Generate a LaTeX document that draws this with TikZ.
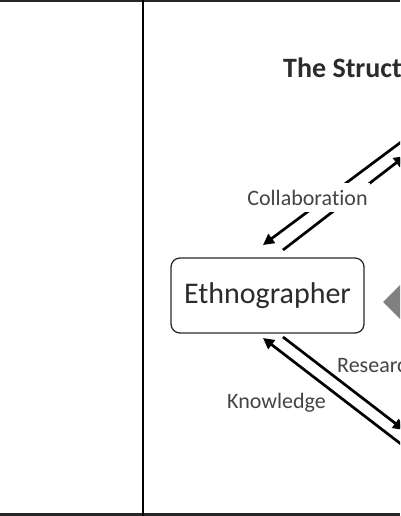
\documentclass[tikz,border=0pt]{standalone}
\usepackage{fontspec}
\setmainfont[Ligatures=NoCommon]{Carlito}
\usetikzlibrary{arrows.meta}
\definecolor{txt}{HTML}{2B2B2B}
\definecolor{lbl}{HTML}{444444}
\begin{document}
\begin{tikzpicture}[x=1pt,y=-1pt,every node/.style={inner sep=0pt},
  flow/.style={line width=2.7pt,-{Triangle[length=11pt,width=11pt]}},
  lab/.style={text=lbl,font=\fontsize{22}{24}\selectfont}]
\clip (0,0) rectangle (400,516);
\fill[white] (0,0) rectangle (400,516);
% frame
\draw[line width=2.5pt,black!85] (0,1) -- (400,1);
\draw[line width=3pt,black!85] (0,514.5) -- (400,514.5);
\draw[line width=2pt] (143,0) -- (143,516);
\node[anchor=base west,text=txt,font=\bfseries\fontsize{28}{30}\selectfont] at(283,78)(title){The Struct};
\node[draw=txt,line width=1.3pt,rounded corners=9pt,minimum width=193pt,minimum height=75pt,
      text=txt,font=\fontsize{30}{32}\selectfont] at(267.5,295.5)(eth){Ethnographer};
\fill[gray] (383,302) -- (410,275) -- (437,302) -- (410,329) -- cycle;
\coordinate (a1) at (440,113); \coordinate (a2) at (263,245);
\coordinate (b1) at (283,250); \coordinate (b2) at (405,156);
\coordinate (c1) at (440,474); \coordinate (c2) at (263,338);
\coordinate (d1) at (283,337); \coordinate (d2) at (404,430);
\path[flow](a1)edge(a2)
           (b1)edge(b2)
           (c1)edge(c2)
           (d1)edge(d2);
\node[lab,fill=white,inner xsep=2pt,inner ysep=7pt,anchor=base] at(307.5,205)(col){Collaboration};
\node[lab,anchor=base] at(276.5,408)(kno){Knowledge};
\node[lab,anchor=base west] at(337,372)(res){Researc};
\end{tikzpicture}
\end{document}
